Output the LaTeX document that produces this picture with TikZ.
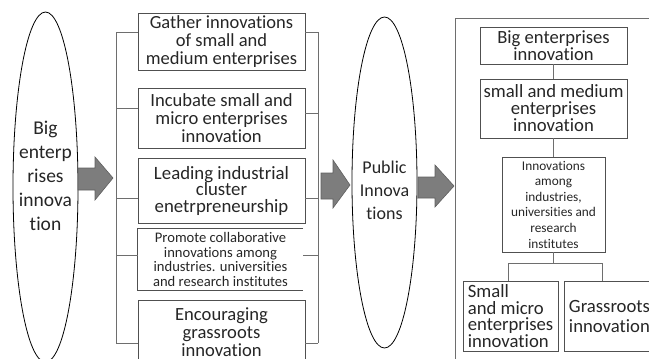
\documentclass[tikz,border=0pt]{standalone}
\usepackage{fontspec}
\setmainfont{Carlito}[Ligatures=NoCommon]
\usetikzlibrary{shapes.geometric}
\definecolor{boxc}{RGB}{80,80,80}
\definecolor{linec}{RGB}{110,110,110}
\definecolor{arrowfill}{RGB}{125,125,125}
\definecolor{arrowdraw}{RGB}{95,95,95}
\tikzset{
  x=1pt, y=-1pt,
  box/.style={draw=boxc, line width=0.8pt, inner sep=0pt, align=center, text=black!85},
  oval/.style={ellipse, draw=black, line width=0.8pt, inner sep=0pt},
  ovaltext/.style={align=center, inner sep=0pt, text=black!85},
  brk/.style={draw=linec, line width=0.8pt},
  blockarrow/.style={fill=arrowfill, draw=arrowdraw, line width=0.6pt},
}
\begin{document}
\begin{tikzpicture}
\useasboundingbox (0,0) rectangle (649,359);
% left ellipse
\node[oval, minimum width=65pt, minimum height=350pt] (e1) at (45.5,187) {};
\node[ovaltext, font=\fontsize{19.5}{24}\selectfont] (e1t) at (45.5,176) {Big\\enterp\\rises\\innova\\tion};
% middle column boxes
\node[box, minimum width=167pt, minimum height=57pt, font=\fontsize{18.5}{17.8}\selectfont] (b1) at (221.5,41.5) {Gather innovations\\of small and\\medium enterprises};
\node[box, minimum width=167pt, minimum height=60pt, font=\fontsize{18.6}{18}\selectfont] (b2) at (221.5,118) {Incubate small and\\micro enterprises\\innovation};
\node[box, minimum width=167pt, minimum height=65pt, font=\fontsize{18.8}{16.5}\selectfont] (b3) at (221.5,190.5) {Leading industrial\\cluster\\enetrpreneurship};
\node[align=center, inner sep=0pt, text=black!85, minimum width=165pt, minimum height=61pt, font=\fontsize{14.6}{14.5}\selectfont] (b4) at (220.5,259.5) {Promote collaborative\\innovations among\\industries. universities\\and research institutes};
\draw[draw=boxc, line width=0.8pt] (b4.north east) -- (b4.north west) -- (b4.south west) -- (b4.south east);
\node[box, minimum width=167pt, minimum height=64pt, font=\fontsize{18.6}{18}\selectfont] (b5) at (221.5,332) {Encouraging\\grassroots\\innovation};
% bracket
\coordinate (Lt) at (116,32);
\coordinate (Lb) at (116,343);
\coordinate (Rt) at (318,32);
\coordinate (Rb) at (318,343);
\coordinate (L2) at (116,108);
\coordinate (R2) at (318,113);
\coordinate (L3) at (116,198);
\coordinate (R3) at (318,198);
\coordinate (L4) at (116,255);
\coordinate (R4) at (318,255);
\draw[brk] (Lt) -- (Lb);
\draw[brk] (Rt) -- (Rb);
\draw[brk] (Lt) -- (b1.west |- Lt);
\draw[brk] (Rt) -- (b1.east |- Rt);
\draw[brk] (L2) -- (b2.west |- L2);
\draw[brk] (R2) -- (b2.east |- R2);
\draw[brk] (L3) -- (b3.west |- L3);
\draw[brk] (R3) -- (b3.east |- R3);
\draw[brk] (L4) -- (b4.west |- L4);
\draw[brk] (R4) -- (b4.east |- R4);
\draw[brk] (Lb) -- (b5.west |- Lb);
\draw[brk] (Rb) -- (b5.east |- Rb);
% middle ellipse
\node[oval, minimum width=65pt, minimum height=331pt] (e2) at (384.5,182.5) {};
\node[ovaltext, font=\fontsize{18}{23}\selectfont] (e2t) at (384.5,190) {Public\\Innova\\tions};
% block arrows
\draw[blockarrow] (78,168) -- (95,168) -- (95,157) -- (113,178) -- (95,200) -- (95,190) -- (78,190) -- cycle;
\draw[blockarrow] (321,173) -- (333,173) -- (333,160) -- (350,185) -- (333,208) -- (333,199) -- (321,199) -- cycle;
\draw[blockarrow] (418,177) -- (435,177) -- (435,165) -- (454,186) -- (435,207) -- (435,198) -- (418,198) -- cycle;
% right frame
\coordinate (f1) at (455,365);
\coordinate (f2) at (455,18);
\coordinate (f3) at (660,18);
\draw[brk] (f1) -- (f2) -- (f3);
% right boxes
\node[box, minimum width=147pt, minimum height=37pt, font=\fontsize{18.6}{16.5}\selectfont] (bA) at (553.5,45.5) {Big enterprises\\innovation};
\node[box, minimum width=147pt, minimum height=59pt, font=\fontsize{18.7}{17}\selectfont] (bB) at (553.5,108.5) {small and medium\\enterprises\\innovation};
\node[box, minimum width=103pt, minimum height=95pt, font=\fontsize{13.3}{15.6}\selectfont] (bC) at (553.5,204.5) {Innovations\\among\\industries,\\universities and\\research\\institutes};
\node[box, align=left, minimum width=95pt, minimum height=70pt, font=\fontsize{18.7}{16.7}\selectfont] (bD) at (510.5,316) {Small\\and micro\\enterprises\\innovation};
\node[box, align=left, minimum width=91pt, minimum height=70pt, font=\fontsize{18.7}{20}\selectfont] (bE) at (609.5,316) {Grassroots\\innovation};
\draw[brk] (bA) -- (bB);
\draw[brk] (bB) -- (bC);
\coordinate (jl) at (508,263);
\coordinate (jr) at (602,263);
\draw[brk] (bC.south) -- (bC.south |- jl);
\draw[brk] (jl) -- (jr);
\draw[brk] (jl) -- (jl |- bD.north);
\draw[brk] (jr) -- (jr |- bE.north);
\end{tikzpicture}
\end{document}
